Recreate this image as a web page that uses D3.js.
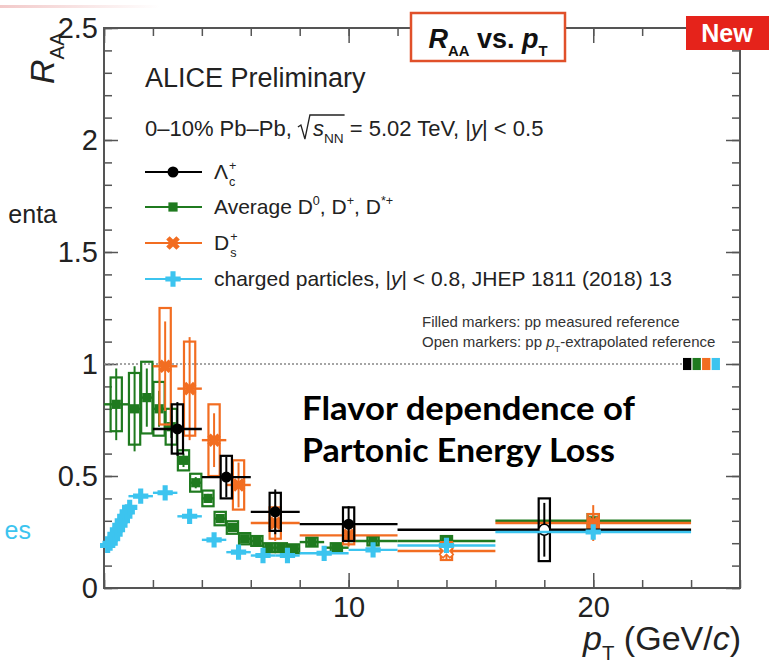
<!DOCTYPE html>
<html>
<head>
<meta charset="utf-8">
<script src="https://cdn.jsdelivr.net/npm/d3@7"></script>
<style>
  body { margin: 0; background: #fff; }
  svg { display: block; }
  svg text { white-space: pre; }
</style>
</head>
<body>
<div id="chart"></div>
<script>
// Lambda_c+ (black)
const lcPt   = [3, 5, 7, 10, 18];
const lcLo   = [2, 4, 6, 8, 12];
const lcHi   = [4, 6, 8, 12, 24];
const lcRaa  = [0.71, 0.495, 0.34, 0.285, 0.26];
const lcStat = [0.12, 0.09, 0.10, 0.08, 0.12];
const lcSys  = [0.11, 0.095, 0.085, 0.075, 0.14];
const lcOpen = [false, false, false, false, true];

// average D0, D+, D*+ (green)
const dPt   = [0.5, 1.25, 1.75, 2.25, 2.75, 3.25, 3.75, 4.25, 4.75, 5.25, 5.75, 6.25, 6.75, 7.25, 7.75, 8.5, 9.5, 11, 14, 20];
const dLo   = [0, 1, 1.5, 2, 2.5, 3, 3.5, 4, 4.5, 5, 5.5, 6, 6.5, 7, 7.5, 8, 9, 10, 12, 16];
const dHi   = [1, 1.5, 2, 2.5, 3, 3.5, 4, 4.5, 5, 5.5, 6, 6.5, 7, 7.5, 8, 9, 10, 12, 16, 24];
const dRaa  = [0.82, 0.80, 0.85, 0.80, 0.72, 0.57, 0.47, 0.40, 0.31, 0.27, 0.22, 0.21, 0.18, 0.18, 0.175, 0.205, 0.18, 0.21, 0.21, 0.30];
const dStat = [0.16, 0.19, 0.13, 0.08, 0.05, 0.03, 0.025, 0.02, 0.02, 0.02, 0.015, 0.015, 0.015, 0.015, 0.015, 0.015, 0.02, 0.02, 0.02, 0.03];
const dSys  = [0.12, 0.16, 0.16, 0.12, 0.08, 0.045, 0.04, 0.035, 0.03, 0.028, 0.025, 0.022, 0.02, 0.02, 0.02, 0.02, 0.02, 0.02, 0.022, 0.03];

// Ds+ (orange)
const sPt   = [2.5, 3.5, 4.5, 5.5, 7, 10, 14, 20];
const sLo   = [2, 3, 4, 5, 6, 8, 12, 16];
const sHi   = [3, 4, 5, 6, 8, 12, 16, 24];
const sRaa  = [0.99, 0.89, 0.66, 0.46, 0.29, 0.235, 0.165, 0.29];
const sStat = [0.20, 0.23, 0.12, 0.10, 0.08, 0.05, 0.04, 0.08];
const sSys  = [0.26, 0.21, 0.16, 0.11, 0.07, 0.04, 0.04, 0.04];
const sOpen = [false, false, false, false, false, false, true, false];

// charged particles (cyan)
const hPt  = [0.15, 0.25, 0.35, 0.45, 0.55, 0.65, 0.75, 0.85, 0.95, 1.05, 1.5, 2.5, 3.5, 4.5, 5.5, 6.5, 7.5, 9, 11, 14, 20];
const hLo  = [0.1, 0.2, 0.3, 0.4, 0.5, 0.6, 0.7, 0.8, 0.9, 1.0, 1, 2, 3, 4, 5, 6, 7, 8, 10, 12, 16];
const hHi  = [0.2, 0.3, 0.4, 0.5, 0.6, 0.7, 0.8, 0.9, 1.0, 1.1, 2, 3, 4, 5, 6, 7, 8, 10, 12, 16, 24];
const hRaa = [0.19, 0.20, 0.22, 0.24, 0.26, 0.28, 0.30, 0.32, 0.34, 0.36, 0.41, 0.425, 0.32, 0.215, 0.16, 0.145, 0.145, 0.155, 0.17, 0.19, 0.25];

// normalisation uncertainties (boxes at R_AA = 1), order: Lc, D, Ds, h
const normUnc = [0.027, 0.027, 0.027, 0.027];

const xMajor = [0, 10, 20];
const xMinor = d3.range(0, 26.01, 2);
const yMajor = [0, 0.5, 1, 1.5, 2, 2.5];
const yMinor = d3.range(0, 2.501, 0.1);

const BLACK = '#000', GREEN = '#1f7a1f', ORANGE = '#f26d21', CYAN = '#3cc4ef';
const FONT = '"Liberation Sans", Arial, Helvetica, sans-serif';

const W = 769, H = 666;
const svg = d3.select('#chart').append('svg')
    .attr('width', W).attr('height', H)
    .attr('font-family', FONT);

const x = d3.scaleLinear().domain([0, 26]).range([104, 740]);
const y = d3.scaleLinear().domain([0, 2.5]).range([588, 28]);

// small helper: writes pieces of text one after another (for sub/superscripts)
function rich(g, x0, yb, base, pieces, color) {
    let cx = x0;
    pieces.forEach(p => {
        const fs = base * (p.s || 1);
        const px = cx + (p.dx || 0);
        const t = g.append('text')
            .attr('x', px)
            .attr('y', yb + (p.dy || 0) * base)
            .attr('font-size', fs)
            .attr('font-style', p.i ? 'italic' : null)
            .attr('font-weight', p.b ? 'bold' : null)
            .attr('fill', p.c || color || '#222')
            .text(p.t);
        p.x0 = px;
        p.x1 = px + t.node().getComputedTextLength();
        if (!p.stack) cx = p.x1;
    });
    return cx;
}

// faint banner line left over from the slide
const grad = svg.append('defs').append('linearGradient').attr('id', 'fade');
grad.append('stop').attr('offset', '0%').attr('stop-color', '#f2c9c9');
grad.append('stop').attr('offset', '100%').attr('stop-color', '#ffffff');
svg.append('rect').attr('x', 0).attr('y', 5).attr('width', 160).attr('height', 3).attr('fill', 'url(#fade)');

// clipped text from the slide behind
svg.append('text').attr('x', 57).attr('y', 223).attr('text-anchor', 'end')
    .attr('font-size', 25).attr('fill', '#222').text('enta');
svg.append('text').attr('x', 31).attr('y', 539).attr('text-anchor', 'end')
    .attr('font-size', 25).attr('fill', CYAN).text('es');

// axes (ticks inward, ROOT style)
function styleAxis(g) {
    g.select('.domain').remove();
    g.selectAll('line').attr('stroke', '#555').attr('stroke-width', 1.5);
    g.selectAll('text').attr('font-size', 29).attr('fill', '#222').attr('font-family', FONT);
}
svg.append('g').attr('transform', 'translate(0,588)')
    .call(d3.axisBottom(x).tickValues(xMinor).tickSize(-8).tickFormat('')).call(styleAxis);
svg.append('g').attr('transform', 'translate(0,588)')
    .call(d3.axisBottom(x).tickValues(xMajor).tickSize(-15).tickPadding(8)
        .tickFormat(d => d === 0 ? '' : d)).call(styleAxis);
svg.append('g').attr('transform', 'translate(0,28)')
    .call(d3.axisTop(x).tickValues(xMinor).tickSize(-8).tickFormat('')).call(styleAxis);
svg.append('g').attr('transform', 'translate(0,28)')
    .call(d3.axisTop(x).tickValues(xMajor).tickSize(-15).tickFormat('')).call(styleAxis);
svg.append('g').attr('transform', 'translate(104,0)')
    .call(d3.axisLeft(y).tickValues(yMinor).tickSize(-8).tickFormat('')).call(styleAxis);
svg.append('g').attr('transform', 'translate(104,0)')
    .call(d3.axisLeft(y).tickValues(yMajor).tickSize(-14).tickPadding(6)
        .tickFormat(d3.format('~g'))).call(styleAxis);
svg.append('g').attr('transform', 'translate(740,0)')
    .call(d3.axisRight(y).tickValues(yMinor).tickSize(-8).tickFormat('')).call(styleAxis);
svg.append('g').attr('transform', 'translate(740,0)')
    .call(d3.axisRight(y).tickValues(yMajor).tickSize(-14).tickFormat('')).call(styleAxis);

svg.append('rect')
    .attr('x', x(0)).attr('y', y(2.5))
    .attr('width', x(26) - x(0)).attr('height', y(0) - y(2.5))
    .attr('fill', 'none').attr('stroke', '#555').attr('stroke-width', 2);

// unity line and normalisation boxes
const normStart = x.invert(683);
svg.append('line')
    .attr('x1', x(0)).attr('x2', x(normStart))
    .attr('y1', y(1)).attr('y2', y(1))
    .attr('stroke', '#888').attr('stroke-width', 1.5).attr('stroke-dasharray', '2,2');
[BLACK, GREEN, ORANGE, CYAN].forEach((c, i) => {
    const x0 = normStart + i * 0.39;
    svg.append('rect')
        .attr('x', x(x0)).attr('y', y(1 + normUnc[i]))
        .attr('width', x(x0 + 0.34) - x(x0))
        .attr('height', y(1 - normUnc[i]) - y(1 + normUnc[i]))
        .attr('fill', c);
});

// markers
const sym = {
    circle: d3.symbol(d3.symbolCircle, 95),
    square: d3.symbol(d3.symbolSquare, 85),
    xcross: d3.symbol(d3.symbolCross, 115),
    plus: d3.symbol(d3.symbolCross, 130)
};
const rot = {circle: 0, square: 0, xcross: 45, plus: 0};

function drawSeries(pt, lo, hi, raa, stat, sys, open, color, shape) {
    const g = svg.append('g');
    const pts = pt.map((p, i) => ({
        p, lo: lo[i], hi: hi[i], v: raa[i],
        st: stat ? stat[i] : 0, sy: sys ? sys[i] : 0, open: open ? open[i] : false
    }));
    if (sys) {
        g.selectAll('rect.sys').data(pts).enter().append('rect')
            .attr('x', d => x(d.p - 0.23)).attr('width', d => x(d.p + 0.23) - x(d.p - 0.23))
            .attr('y', d => y(d.v + d.sy)).attr('height', d => y(d.v - d.sy) - y(d.v + d.sy))
            .attr('fill', 'none').attr('stroke', color).attr('stroke-width', 2.2);
    }
    g.selectAll('line.xe').data(pts).enter().append('line')
        .attr('x1', d => x(d.lo)).attr('x2', d => x(d.hi))
        .attr('y1', d => y(d.v)).attr('y2', d => y(d.v))
        .attr('stroke', color).attr('stroke-width', 2.4);
    g.selectAll('line.ye').data(pts.filter(d => d.st > 0)).enter().append('line')
        .attr('x1', d => x(d.p)).attr('x2', d => x(d.p))
        .attr('y1', d => y(d.v + d.st)).attr('y2', d => y(d.v - d.st))
        .attr('stroke', color).attr('stroke-width', 2);
    g.selectAll('path.m').data(pts).enter().append('path')
        .attr('d', sym[shape])
        .attr('transform', d => `translate(${x(d.p)},${y(d.v)}) rotate(${rot[shape]})`)
        .attr('fill', d => d.open ? '#fff' : color)
        .attr('stroke', d => d.open ? color : 'none')
        .attr('stroke-width', 1.5);
}

drawSeries(dPt, dLo, dHi, dRaa, dStat, dSys, null, GREEN, 'square');
drawSeries(sPt, sLo, sHi, sRaa, sStat, sSys, sOpen, ORANGE, 'xcross');
drawSeries(lcPt, lcLo, lcHi, lcRaa, lcStat, lcSys, lcOpen, BLACK, 'circle');
drawSeries(hPt, hLo, hHi, hRaa, null, null, null, CYAN, 'plus');

// texts inside the frame
const txt = svg.append('g');
txt.append('text').attr('x', 145).attr('y', 87).attr('font-size', 27).attr('fill', '#222')
    .text('ALICE Preliminary');

const info = [
    {t: '0\u201310% Pb\u2013Pb, '},
    {t: 's', i: true, dx: 15},
    {t: 'NN', s: 0.62, dy: 0.3},
    {t: ' = 5.02 TeV, |'},
    {t: 'y', i: true},
    {t: '| < 0.5'}
];
rich(txt, 145, 136, 22, info);
{
    const rx = info[1].x0 - 15, rEnd = info[2].x1 + 1, yb = 136;
    txt.append('path')
        .attr('d', `M${rx},${yb - 9} L${rx + 3},${yb - 11} L${rx + 7},${yb + 3} L${rx + 12},${yb - 21} L${rEnd},${yb - 21}`)
        .attr('fill', 'none').attr('stroke', '#222').attr('stroke-width', 1.3);
}

// legend
const legendY = [172, 207, 243, 279];
const legendC = [BLACK, GREEN, ORANGE, CYAN];
const legendS = ['circle', 'square', 'xcross', 'plus'];
const legendT = [
    [{t: '\u039B'}, {t: '+', s: 0.6, dy: -0.45, dx: 1, stack: true}, {t: 'c', s: 0.6, dy: 0.32, dx: 1}],
    [{t: 'Average D'}, {t: '0', s: 0.6, dy: -0.42}, {t: ', D'}, {t: '+', s: 0.6, dy: -0.42},
        {t: ', D'}, {t: '*+', s: 0.6, dy: -0.42}],
    [{t: 'D'}, {t: '+', s: 0.6, dy: -0.45, dx: 1, stack: true}, {t: 's', s: 0.6, dy: 0.32, dx: 1}],
    [{t: 'charged particles, |'}, {t: 'y', i: true}, {t: '| < 0.8, JHEP 1811 (2018) 13'}]
];
legendY.forEach((ly, i) => {
    txt.append('line').attr('x1', 145).attr('x2', 202).attr('y1', ly).attr('y2', ly)
        .attr('stroke', legendC[i]).attr('stroke-width', 2.2);
    txt.append('path').attr('d', sym[legendS[i]])
        .attr('transform', `translate(173,${ly}) rotate(${rot[legendS[i]]})`)
        .attr('fill', legendC[i]);
    rich(txt, 214, ly + 7, 21, legendT[i]);
});

txt.append('text').attr('x', 422).attr('y', 327).attr('font-size', 15).attr('fill', '#333')
    .text('Filled markers: pp measured reference');
rich(txt, 422, 347, 15, [
    {t: 'Open markers: pp '}, {t: 'p', i: true}, {t: 'T', s: 0.62, dy: 0.35},
    {t: '-extrapolated reference'}
], '#333');

// big annotation
[['Flavor dependence of', 420, 333], ['Partonic Energy Loss', 462, 313]].forEach(([s, yb, len]) => {
    svg.append('text').attr('x', 302).attr('y', yb)
        .attr('font-family', 'Lato, "Open Sans", sans-serif').attr('font-weight', 'bold')
        .attr('font-size', 32).attr('fill', '#000')
        .attr('textLength', len).attr('lengthAdjust', 'spacingAndGlyphs')
        .text(s);
});

// axis titles
const yt = svg.append('g').attr('transform', 'translate(54,84) rotate(-90)');
rich(yt, 0, 0, 34, [{t: 'R', i: true}, {t: 'AA', s: 0.6, dy: 0.3}]);

const xt = svg.append('g');
const xEnd = rich(xt, 0, 650, 34, [
    {t: 'p', i: true}, {t: 'T', s: 0.6, dy: 0.3}, {t: ' (GeV/'}, {t: 'c', i: true}, {t: ')'}
]);
xt.attr('transform', `translate(${741 - xEnd},0)`);

// title box
svg.append('rect').attr('x', 411).attr('y', 13).attr('width', 154).attr('height', 48)
    .attr('fill', '#fff').attr('stroke', '#e0502a').attr('stroke-width', 2.5);
const tb = svg.append('g');
const tEnd = rich(tb, 0, 48, 27, [
    {t: 'R', i: true, b: true}, {t: 'AA', s: 0.55, dy: 0.28, b: true},
    {t: ' vs. ', b: true}, {t: 'p', i: true, b: true}, {t: 'T', s: 0.55, dy: 0.28, b: true}
], '#111');
tb.attr('transform', `translate(${488 - tEnd / 2},0)`);

// "New" badge
svg.append('rect').attr('x', 686).attr('y', 16).attr('width', 83).attr('height', 34).attr('fill', '#e5231b');
svg.append('text').attr('x', 727).attr('y', 42).attr('text-anchor', 'middle')
    .attr('font-size', 25).attr('font-weight', 'bold').attr('fill', '#fff').text('New');
</script>
</body>
</html>
